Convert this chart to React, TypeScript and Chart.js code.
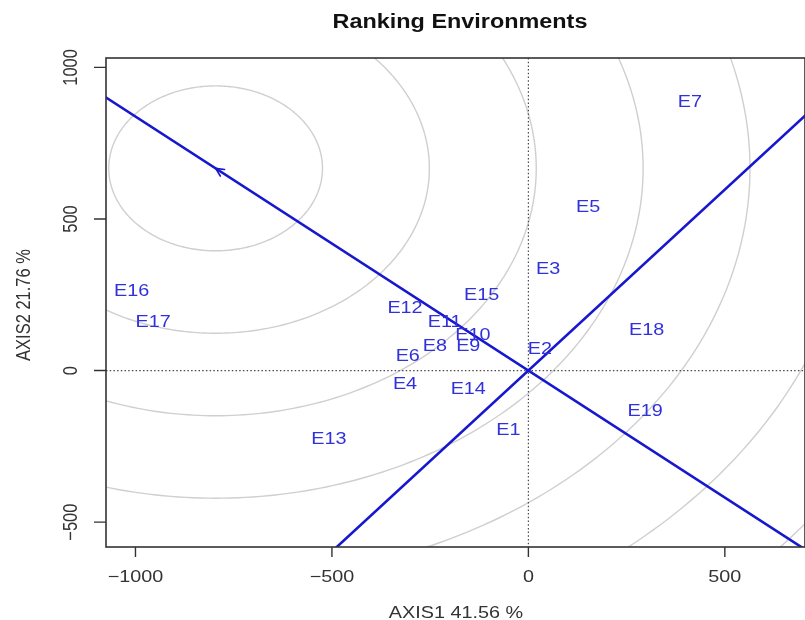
import React, { useEffect, useRef } from "react";
import { Chart, registerables } from "chart.js";

Chart.register(...registerables);

// ---- data ----
const ENV_NAMES = ["E1", "E2", "E3", "E4", "E5", "E6", "E7", "E8", "E9", "E10", "E11", "E12", "E13", "E14", "E15", "E16", "E17", "E18", "E19"];
const ENV_X = [-51, 29, 50, -314, 152, -307, 411, -238, -153, -141, -213, -314, -508, -153, -119, -1010, -955, 301, 297];
const ENV_Y = [-193, 75, 338, -41, 542, 50, 888, 83, 83, 119, 163, 208, -224, -59, 251, 267, 163, 138, -131];
const X_TICKS = [-1000, -500, 0, 500];
const Y_TICKS = [-500, 0, 500, 1000];
const X_RANGE = [-1075, 704];
const Y_RANGE = [-582, 1031];
const AEC_X = -796;
const AEC_Y = 667;
const RING_RADII = [272, 544, 816, 1088, 1360, 1632, 1904, 2176];
const TITLE = "Ranking Environments";
const X_TITLE = "AXIS1 41.56 %";
const Y_TITLE = "AXIS2 21.76 %";

// ---- styles ----
const SX = 1.2;
const FONT = '"Liberation Sans", Arial, Helvetica, sans-serif';
const BLUE_LINE = "#1717cf";
const BLUE_TEXT = "#3030dc";
const AXIS_COLOR = "#333333";

function drawText(
  ctx: CanvasRenderingContext2D,
  s: string,
  x: number,
  y: number,
  size: number,
  color: string,
  opts: { bold?: boolean; rot?: number; align?: CanvasTextAlign } = {}
) {
  ctx.save();
  ctx.translate(x, y);
  ctx.scale(SX, 1);
  if (opts.rot) ctx.rotate(opts.rot);
  ctx.font = `${opts.bold ? "bold " : ""}${size}px ${FONT}`;
  ctx.fillStyle = color;
  ctx.textAlign = opts.align || "center";
  ctx.textBaseline = "alphabetic";
  ctx.fillText(s, 0, 0.358 * size);
  ctx.restore();
}

const ggePlugin = {
  id: "ggePlugin",
  beforeDatasetsDraw(chart: any) {
    const { ctx, chartArea: a, scales } = chart;
    const xs = scales.x;
    const ys = scales.y;
    ctx.save();
    ctx.beginPath();
    ctx.rect(a.left, a.top, a.right - a.left, a.bottom - a.top);
    ctx.clip();
    // concentric rings
    ctx.strokeStyle = "#cfcfcf";
    ctx.lineWidth = 1.4;
    for (const r of RING_RADII) {
      ctx.beginPath();
      for (let i = 0; i <= 360; i++) {
        const t = (i * Math.PI) / 180;
        const px = xs.getPixelForValue(AEC_X + r * Math.cos(t));
        const py = ys.getPixelForValue(AEC_Y + r * Math.sin(t));
        if (i === 0) ctx.moveTo(px, py);
        else ctx.lineTo(px, py);
      }
      ctx.stroke();
    }
    // dotted zero lines
    ctx.strokeStyle = "#4a4a4a";
    ctx.lineWidth = 1.2;
    ctx.setLineDash([1.5, 2.2]);
    const x0 = xs.getPixelForValue(0);
    const y0 = ys.getPixelForValue(0);
    ctx.beginPath();
    ctx.moveTo(x0, a.top);
    ctx.lineTo(x0, a.bottom);
    ctx.moveTo(a.left, y0);
    ctx.lineTo(a.right, y0);
    ctx.stroke();
    ctx.setLineDash([]);
    ctx.restore();
  },
  afterDatasetsDraw(chart: any) {
    const { ctx, chartArea: a, scales } = chart;
    const xs = scales.x;
    const ys = scales.y;
    const len = Math.hypot(AEC_X, AEC_Y);
    const ux = AEC_X / len;
    const uy = AEC_Y / len;
    const ext = 6000;
    ctx.save();
    ctx.beginPath();
    ctx.rect(a.left, a.top, a.right - a.left, a.bottom - a.top);
    ctx.clip();
    ctx.strokeStyle = BLUE_LINE;
    ctx.lineWidth = 2.6;
    ctx.lineCap = "round";
    ctx.beginPath();
    ctx.moveTo(xs.getPixelForValue(-ux * ext), ys.getPixelForValue(-uy * ext));
    ctx.lineTo(xs.getPixelForValue(ux * ext), ys.getPixelForValue(uy * ext));
    ctx.moveTo(xs.getPixelForValue(uy * ext), ys.getPixelForValue(-ux * ext));
    ctx.lineTo(xs.getPixelForValue(-uy * ext), ys.getPixelForValue(ux * ext));
    ctx.stroke();
    // arrow head at AEC point
    const tx = xs.getPixelForValue(AEC_X);
    const ty = ys.getPixelForValue(AEC_Y);
    const ox = xs.getPixelForValue(0);
    const oy = ys.getPixelForValue(0);
    const ang = Math.atan2(ty - oy, tx - ox);
    const hl = 9;
    ctx.lineWidth = 1.6;
    ctx.beginPath();
    for (const d of [-0.45, 0.45]) {
      ctx.moveTo(tx, ty);
      ctx.lineTo(tx - hl * Math.cos(ang + d), ty - hl * Math.sin(ang + d));
    }
    ctx.stroke();
    ctx.restore();

    // environment labels
    const meta = chart.getDatasetMeta(0);
    meta.data.forEach((el: any, i: number) => {
      drawText(ctx, ENV_NAMES[i], el.x, el.y, 16.5, BLUE_TEXT);
    });

    // frame
    ctx.save();
    ctx.strokeStyle = AXIS_COLOR;
    ctx.lineWidth = 1.6;
    ctx.strokeRect(a.left, a.top, a.right - a.left, a.bottom - a.top);
    // x ticks
    ctx.lineWidth = 1.4;
    ctx.beginPath();
    for (const v of X_TICKS) {
      const px = xs.getPixelForValue(v);
      ctx.moveTo(px, a.bottom);
      ctx.lineTo(px, a.bottom + 10);
    }
    for (const v of Y_TICKS) {
      const py = ys.getPixelForValue(v);
      ctx.moveTo(a.left, py);
      ctx.lineTo(a.left - 12, py);
    }
    ctx.stroke();
    ctx.restore();

    for (const v of X_TICKS) {
      const px = xs.getPixelForValue(v);
      drawText(ctx, v < 0 ? "\u2212" + Math.abs(v) : String(v), px, a.bottom + 29, 16.5, "#333333");
    }
    for (const v of Y_TICKS) {
      const py = ys.getPixelForValue(v);
      drawText(ctx, v < 0 ? "\u2212" + Math.abs(v) : String(v), 70, py, 16.5, "#333333", { rot: -Math.PI / 2 });
    }
    // titles
    drawText(ctx, TITLE, 460, 21.5, 19.5, "#111111", { bold: true });
    drawText(ctx, X_TITLE, 456, 612, 16.5, "#333333");
    drawText(ctx, Y_TITLE, 23, 305, 16.5, "#333333", { rot: -Math.PI / 2 });
  },
};

export default function App() {
  const ref = useRef<HTMLCanvasElement | null>(null);
  useEffect(() => {
    if (!ref.current) return;
    const chart = new Chart(ref.current, {
      type: "scatter",
      data: {
        datasets: [
          {
            label: "Environments",
            data: ENV_X.map((x, i) => ({ x, y: ENV_Y[i] })),
            pointRadius: 0,
            pointHoverRadius: 0,
            showLine: false,
          },
        ],
      },
      options: {
        responsive: false,
        animation: false,
        events: [],
        layout: { padding: { left: 106, top: 58, right: 0, bottom: 73 } },
        plugins: { legend: { display: false }, tooltip: { enabled: false }, title: { display: false } },
        scales: {
          x: { type: "linear", min: X_RANGE[0], max: X_RANGE[1], display: false },
          y: { type: "linear", min: Y_RANGE[0], max: Y_RANGE[1], display: false },
        },
      },
      plugins: [ggePlugin],
    });
    return () => chart.destroy();
  }, []);
  return (
    <div style={{ position: "fixed", left: 0, top: 0, width: 805, height: 620, background: "#ffffff" }}>
      <canvas ref={ref} width={805} height={620} style={{ display: "block" }} />
    </div>
  );
}
